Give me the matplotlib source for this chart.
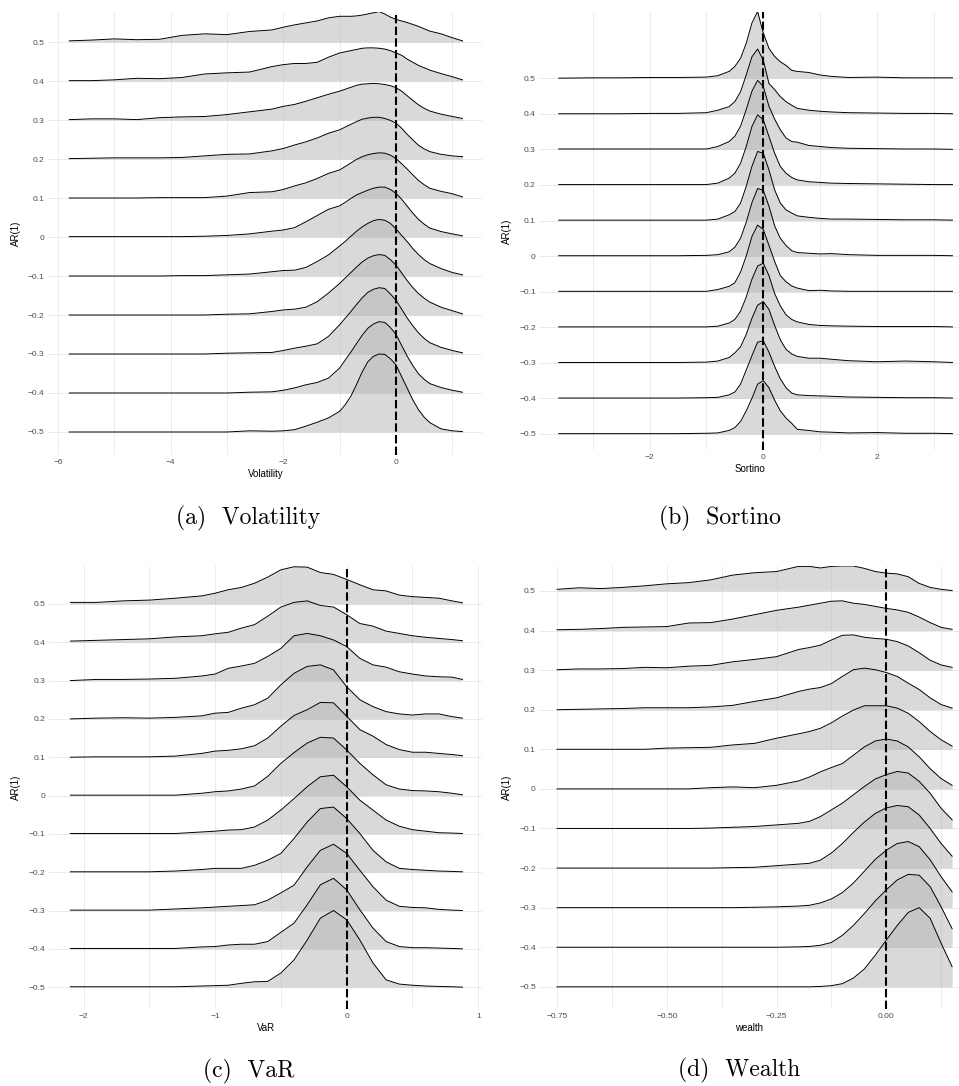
import numpy as np
import matplotlib
matplotlib.use('Agg')
from matplotlib import pyplot as plt

# AR(1) levels, top ridge first
AR_LEVELS = [0.5, 0.4, 0.3, 0.2, 0.1, 0.0, -0.1, -0.2, -0.3, -0.4, -0.5]
AR_LABELS = ['0.5', '0.4', '0.3', '0.2', '0.1', '0', '\u22120.1', '\u22120.2', '\u22120.3', '\u22120.4', '\u22120.5']

# density heights are given in units of the ridge spacing (0.1 on the AR(1) axis)

# (a) Volatility
vol_x = [-5.8, -5.4, -5.0, -4.6, -4.2, -3.8, -3.4, -3.0, -2.6, -2.2, -2.0, -1.8, -1.6, -1.4, -1.2,
         -1.0, -0.9, -0.8, -0.7, -0.6, -0.5, -0.4, -0.3, -0.2, -0.1, 0.0, 0.1, 0.2, 0.3, 0.4, 0.5, 0.6,
         0.8, 1.0, 1.18]
vol_dens = [
    [0.03, 0.05, 0.08, 0.06, 0.07, 0.17, 0.21, 0.19, 0.27, 0.31, 0.38, 0.44, 0.49, 0.54, 0.62,
     0.66, 0.66, 0.66, 0.67, 0.69, 0.72, 0.75, 0.78, 0.72, 0.64, 0.58, 0.54, 0.50, 0.45, 0.40, 0.34, 0.28,
     0.21, 0.11, 0.03],
    [0.01, 0.01, 0.03, 0.07, 0.06, 0.09, 0.18, 0.21, 0.23, 0.37, 0.42, 0.45, 0.45, 0.48, 0.61,
     0.72, 0.75, 0.78, 0.81, 0.84, 0.85, 0.85, 0.84, 0.82, 0.78, 0.72, 0.66, 0.56, 0.48, 0.40, 0.34, 0.28,
     0.19, 0.11, 0.03],
    [0.01, 0.03, 0.03, 0.01, 0.06, 0.08, 0.09, 0.14, 0.21, 0.28, 0.35, 0.40, 0.48, 0.57, 0.66,
     0.74, 0.79, 0.84, 0.89, 0.92, 0.93, 0.94, 0.93, 0.91, 0.88, 0.83, 0.74, 0.62, 0.50, 0.39, 0.30, 0.23,
     0.15, 0.09, 0.04],
    [0.01, 0.02, 0.03, 0.03, 0.03, 0.04, 0.08, 0.12, 0.13, 0.21, 0.27, 0.36, 0.44, 0.54, 0.66,
     0.75, 0.82, 0.89, 0.96, 1.02, 1.05, 1.07, 1.07, 1.04, 0.99, 0.92, 0.79, 0.63, 0.49, 0.35, 0.26, 0.19,
     0.12, 0.08, 0.06],
    [0.0, 0.0, 0.0, 0.0, 0.01, 0.01, 0.01, 0.05, 0.14, 0.16, 0.22, 0.31, 0.39, 0.50, 0.63,
     0.72, 0.81, 0.90, 0.99, 1.06, 1.11, 1.14, 1.16, 1.15, 1.10, 1.01, 0.88, 0.74, 0.59, 0.45, 0.34, 0.25,
     0.17, 0.11, 0.03],
    [0.01, 0.01, 0.01, 0.01, 0.01, 0.01, 0.02, 0.04, 0.08, 0.15, 0.18, 0.24, 0.39, 0.55, 0.71,
     0.80, 0.89, 0.99, 1.08, 1.14, 1.20, 1.25, 1.28, 1.28, 1.22, 1.12, 0.97, 0.79, 0.61, 0.45, 0.33, 0.23,
     0.14, 0.08, 0.03],
    [0.0, 0.0, 0.0, 0.0, 0.0, 0.01, 0.01, 0.03, 0.05, 0.11, 0.14, 0.15, 0.22, 0.37, 0.54,
     0.77, 0.89, 1.02, 1.15, 1.26, 1.35, 1.42, 1.45, 1.43, 1.35, 1.21, 1.04, 0.88, 0.70, 0.55, 0.42, 0.32,
     0.19, 0.09, 0.03],
    [0.0, 0.0, 0.0, 0.0, 0.0, 0.0, 0.0, 0.02, 0.03, 0.09, 0.13, 0.15, 0.20, 0.34, 0.56,
     0.81, 0.95, 1.09, 1.23, 1.36, 1.46, 1.52, 1.55, 1.53, 1.42, 1.28, 1.08, 0.88, 0.70, 0.55, 0.43, 0.33,
     0.20, 0.11, 0.03],
    [0.0, 0.0, 0.0, 0.0, 0.0, 0.0, 0.0, 0.02, 0.03, 0.04, 0.09, 0.15, 0.20, 0.26, 0.45,
     0.75, 0.92, 1.09, 1.27, 1.44, 1.58, 1.66, 1.70, 1.68, 1.54, 1.38, 1.15, 0.92, 0.72, 0.54, 0.40, 0.29,
     0.17, 0.09, 0.03],
    [0.0, 0.0, 0.0, 0.0, 0.0, 0.0, 0.0, 0.0, 0.02, 0.03, 0.07, 0.13, 0.21, 0.27, 0.38,
     0.64, 0.85, 1.05, 1.27, 1.48, 1.66, 1.77, 1.83, 1.81, 1.68, 1.50, 1.22, 0.94, 0.70, 0.49, 0.35, 0.24,
     0.14, 0.07, 0.02],
    [0.0, 0.0, 0.0, 0.0, 0.0, 0.0, 0.0, 0.0, 0.03, 0.02, 0.03, 0.06, 0.15, 0.25, 0.36,
     0.53, 0.70, 0.92, 1.22, 1.54, 1.80, 1.94, 2.00, 1.99, 1.88, 1.72, 1.42, 1.12, 0.82, 0.57, 0.38, 0.24,
     0.08, 0.03, 0.01],
]
vol_ticks = [-6, -4, -2, 0]
vol_tick_labels = ['\u22126', '\u22124', '\u22122', '0']
vol_minor = [-5, -3, -1, 1]

# (b) Sortino
sor_x = [-3.6, -3.0, -2.5, -2.0, -1.5, -1.0, -0.8, -0.6, -0.5, -0.4, -0.3, -0.2, -0.1, 0.0,
         0.1, 0.2, 0.3, 0.4, 0.5, 0.6, 0.8, 1.0, 1.2, 1.5, 2.0, 2.5, 3.0, 3.33]
sor_dens = [
    [0.0, 0.01, 0.01, 0.02, 0.02, 0.03, 0.07, 0.19, 0.33, 0.56, 0.98, 1.55, 1.87, 1.27, 0.84, 0.61, 0.46, 0.36, 0.22, 0.19, 0.16, 0.09, 0.05, 0.02, 0.03, 0.01, 0.01, 0.01],
    [0.0, 0.0, 0.0, 0.01, 0.01, 0.03, 0.10, 0.20, 0.34, 0.62, 1.09, 1.60, 1.82, 1.51, 0.85, 0.68, 0.48, 0.34, 0.24, 0.15, 0.10, 0.07, 0.05, 0.03, 0.02, 0.01, 0.01, 0.0],
    [0.01, 0.01, 0.01, 0.01, 0.01, 0.01, 0.08, 0.22, 0.37, 0.65, 1.12, 1.63, 1.94, 1.77, 1.21, 0.85, 0.55, 0.32, 0.22, 0.20, 0.11, 0.08, 0.05, 0.03, 0.02, 0.01, 0.01, 0.0],
    [0.01, 0.01, 0.01, 0.01, 0.01, 0.01, 0.05, 0.19, 0.33, 0.61, 1.08, 1.64, 1.97, 1.83, 1.36, 0.89, 0.52, 0.33, 0.21, 0.14, 0.09, 0.07, 0.05, 0.04, 0.03, 0.02, 0.01, 0.01],
    [0.01, 0.01, 0.01, 0.01, 0.01, 0.01, 0.04, 0.16, 0.25, 0.49, 0.96, 1.52, 1.94, 1.89, 1.42, 0.86, 0.49, 0.30, 0.21, 0.13, 0.09, 0.06, 0.04, 0.04, 0.03, 0.02, 0.02, 0.01],
    [0.01, 0.01, 0.01, 0.01, 0.01, 0.02, 0.04, 0.12, 0.25, 0.50, 0.95, 1.50, 1.90, 1.85, 1.40, 0.85, 0.50, 0.30, 0.15, 0.10, 0.08, 0.06, 0.07, 0.04, 0.02, 0.02, 0.02, 0.01],
    [0.01, 0.01, 0.01, 0.01, 0.01, 0.01, 0.06, 0.15, 0.25, 0.55, 1.00, 1.55, 1.87, 1.75, 1.30, 0.85, 0.45, 0.28, 0.16, 0.10, 0.03, 0.04, 0.02, 0.01, 0.01, 0.01, 0.01, 0.01],
    [0.01, 0.01, 0.01, 0.01, 0.01, 0.01, 0.03, 0.12, 0.22, 0.45, 0.85, 1.35, 1.72, 1.80, 1.45, 0.95, 0.60, 0.35, 0.22, 0.15, 0.08, 0.05, 0.04, 0.03, 0.02, 0.02, 0.02, 0.01],
    [0.01, 0.01, 0.01, 0.01, 0.01, 0.02, 0.05, 0.15, 0.28, 0.45, 0.80, 1.25, 1.62, 1.72, 1.50, 1.05, 0.65, 0.38, 0.25, 0.18, 0.13, 0.13, 0.10, 0.06, 0.03, 0.05, 0.03, 0.01],
    [0.01, 0.01, 0.01, 0.01, 0.01, 0.02, 0.03, 0.10, 0.18, 0.40, 0.80, 1.20, 1.58, 1.62, 1.30, 0.90, 0.55, 0.30, 0.15, 0.10, 0.08, 0.07, 0.06, 0.04, 0.03, 0.02, 0.02, 0.01],
    [0.01, 0.01, 0.01, 0.01, 0.01, 0.02, 0.03, 0.10, 0.18, 0.35, 0.65, 1.00, 1.40, 1.50, 1.30, 0.95, 0.65, 0.45, 0.30, 0.13, 0.10, 0.06, 0.05, 0.03, 0.04, 0.02, 0.02, 0.01],
]
sor_ticks = [-2, 0, 2]
sor_tick_labels = ['\u22122', '0', '2']
sor_minor = [-3, -1, 1, 3]

# (c) VaR
var_x = [-2.1, -1.9, -1.7, -1.5, -1.3, -1.1, -1.0, -0.9, -0.8, -0.7, -0.6, -0.5, -0.4, -0.3,
         -0.2, -0.1, 0.0, 0.1, 0.2, 0.3, 0.4, 0.5, 0.6, 0.7, 0.8, 0.88]
var_dens = [
    [0.04, 0.04, 0.08, 0.10, 0.15, 0.21, 0.28, 0.37, 0.43, 0.54, 0.70, 0.89, 0.97, 0.96, 0.82, 0.77, 0.64, 0.50, 0.37, 0.34, 0.23, 0.19, 0.17, 0.15, 0.08, 0.03],
    [0.03, 0.05, 0.07, 0.09, 0.14, 0.17, 0.22, 0.26, 0.37, 0.46, 0.68, 0.92, 1.04, 1.08, 0.96, 0.92, 0.72, 0.49, 0.42, 0.29, 0.23, 0.17, 0.13, 0.10, 0.07, 0.04],
    [0.0, 0.03, 0.03, 0.04, 0.06, 0.12, 0.17, 0.32, 0.38, 0.45, 0.63, 0.84, 1.17, 1.23, 1.17, 1.06, 0.89, 0.58, 0.41, 0.35, 0.23, 0.17, 0.12, 0.10, 0.09, 0.03],
    [0.0, 0.02, 0.03, 0.02, 0.04, 0.08, 0.15, 0.17, 0.28, 0.37, 0.54, 0.89, 1.19, 1.37, 1.41, 1.28, 0.84, 0.50, 0.32, 0.19, 0.13, 0.10, 0.13, 0.13, 0.06, 0.02],
    [0.0, 0.01, 0.01, 0.01, 0.03, 0.10, 0.16, 0.18, 0.22, 0.30, 0.50, 0.81, 1.09, 1.24, 1.43, 1.42, 1.07, 0.72, 0.55, 0.33, 0.20, 0.13, 0.13, 0.10, 0.07, 0.04],
    [0.01, 0.01, 0.01, 0.01, 0.01, 0.06, 0.10, 0.12, 0.17, 0.25, 0.50, 0.84, 1.12, 1.37, 1.52, 1.50, 1.19, 0.84, 0.54, 0.28, 0.17, 0.13, 0.12, 0.10, 0.06, 0.02],
    [0.01, 0.01, 0.01, 0.01, 0.01, 0.05, 0.07, 0.10, 0.11, 0.18, 0.36, 0.62, 0.92, 1.23, 1.49, 1.53, 1.23, 0.88, 0.62, 0.36, 0.20, 0.11, 0.07, 0.03, 0.02, 0.01],
    [0.01, 0.01, 0.01, 0.01, 0.03, 0.07, 0.10, 0.10, 0.10, 0.18, 0.31, 0.49, 0.88, 1.31, 1.66, 1.70, 1.40, 1.01, 0.57, 0.27, 0.10, 0.07, 0.05, 0.03, 0.02, 0.01],
    [0.01, 0.01, 0.01, 0.01, 0.04, 0.07, 0.09, 0.11, 0.13, 0.15, 0.27, 0.46, 0.66, 1.14, 1.57, 1.73, 1.49, 1.05, 0.62, 0.27, 0.11, 0.08, 0.07, 0.03, 0.01, 0.0],
    [0.01, 0.01, 0.01, 0.01, 0.01, 0.05, 0.06, 0.10, 0.12, 0.12, 0.19, 0.43, 0.67, 1.15, 1.67, 1.84, 1.54, 1.02, 0.54, 0.19, 0.06, 0.03, 0.03, 0.02, 0.01, 0.0],
    [0.01, 0.01, 0.01, 0.01, 0.01, 0.03, 0.04, 0.05, 0.10, 0.14, 0.15, 0.37, 0.71, 1.23, 1.80, 2.00, 1.76, 1.23, 0.63, 0.19, 0.08, 0.05, 0.03, 0.02, 0.01, 0.0],
]
var_ticks = [-2, -1, 0, 1]
var_tick_labels = ['\u22122', '\u22121', '0', '1']
var_minor = [-1.5, -0.5, 0.5]

# (d) Wealth
wealth_x = [-0.75, -0.70, -0.65, -0.60, -0.55, -0.50, -0.45, -0.40, -0.35, -0.30, -0.25, -0.20, -0.175,
            -0.15, -0.125, -0.10, -0.075, -0.05, -0.025, 0.0, 0.025, 0.05, 0.075, 0.10, 0.125, 0.15]
wealth_dens = [
    [0.04, 0.08, 0.06, 0.09, 0.13, 0.18, 0.21, 0.28, 0.40, 0.46, 0.49, 0.62, 0.62, 0.58, 0.62, 0.63, 0.63, 0.57, 0.49, 0.45, 0.43, 0.36, 0.19, 0.09, 0.04, 0.01],
    [0.02, 0.03, 0.05, 0.08, 0.09, 0.10, 0.19, 0.20, 0.29, 0.40, 0.51, 0.59, 0.64, 0.69, 0.74, 0.75, 0.69, 0.66, 0.61, 0.56, 0.52, 0.46, 0.34, 0.20, 0.08, 0.03],
    [0.01, 0.03, 0.03, 0.04, 0.07, 0.06, 0.10, 0.12, 0.21, 0.27, 0.34, 0.52, 0.57, 0.63, 0.76, 0.88, 0.89, 0.83, 0.80, 0.78, 0.72, 0.61, 0.44, 0.25, 0.13, 0.07],
    [0.0, 0.01, 0.02, 0.03, 0.05, 0.05, 0.05, 0.07, 0.11, 0.21, 0.30, 0.46, 0.52, 0.56, 0.66, 0.84, 1.01, 1.05, 1.01, 0.94, 0.84, 0.67, 0.51, 0.30, 0.13, 0.04],
    [0.0, 0.0, 0.0, 0.0, 0.0, 0.03, 0.04, 0.05, 0.11, 0.15, 0.28, 0.39, 0.45, 0.53, 0.67, 0.84, 0.99, 1.10, 1.10, 1.10, 1.04, 0.91, 0.70, 0.45, 0.24, 0.08],
    [0.0, 0.0, 0.0, 0.0, 0.0, 0.0, 0.0, 0.03, 0.05, 0.03, 0.09, 0.20, 0.30, 0.43, 0.54, 0.64, 0.85, 1.06, 1.21, 1.26, 1.21, 1.06, 0.81, 0.51, 0.26, 0.09],
    [0.0, 0.0, 0.0, 0.0, 0.0, 0.0, 0.0, 0.01, 0.03, 0.05, 0.09, 0.13, 0.18, 0.30, 0.47, 0.64, 0.85, 1.06, 1.25, 1.36, 1.44, 1.40, 1.19, 0.89, 0.51, 0.22],
    [0.0, 0.0, 0.0, 0.0, 0.0, 0.0, 0.0, 0.0, 0.01, 0.02, 0.06, 0.10, 0.12, 0.20, 0.38, 0.62, 0.90, 1.16, 1.38, 1.52, 1.58, 1.55, 1.34, 1.00, 0.62, 0.30],
    [0.0, 0.0, 0.0, 0.0, 0.0, 0.0, 0.0, 0.0, 0.0, 0.01, 0.02, 0.04, 0.06, 0.12, 0.22, 0.38, 0.62, 0.92, 1.22, 1.45, 1.62, 1.67, 1.54, 1.21, 0.78, 0.40],
    [0.0, 0.0, 0.0, 0.0, 0.0, 0.0, 0.0, 0.0, 0.0, 0.0, 0.0, 0.01, 0.02, 0.05, 0.12, 0.30, 0.55, 0.85, 1.17, 1.45, 1.70, 1.84, 1.82, 1.53, 1.02, 0.47],
    [0.0, 0.0, 0.0, 0.0, 0.0, 0.0, 0.0, 0.0, 0.0, 0.0, 0.0, 0.0, 0.0, 0.01, 0.03, 0.08, 0.22, 0.45, 0.80, 1.18, 1.55, 1.88, 2.00, 1.73, 1.10, 0.51],
]
wealth_ticks = [-0.75, -0.50, -0.25, 0.0]
wealth_tick_labels = ['\u22120.75', '\u22120.50', '\u22120.25', '0.00']
wealth_minor = [-0.625, -0.375, -0.125, 0.125]

FIG_W, FIG_H = 959, 1086
GRID_COLOR = '#ebebeb'


def pixelBox(left, top, right, bottom):
    # convert a box in image pixels (origin top-left) to figure fractions
    return [left / FIG_W, 1 - bottom / FIG_H, (right - left) / FIG_W, (bottom - top) / FIG_H]


def ridgePanel(fig, box, xs, dens, xlim, ylim, ticks, tickLabels, minor, xLabel, caption, captionXY):
    ax = fig.add_axes(pixelBox(*box))

    # background grid like theme_minimal
    for g in ticks + minor:
        ax.axvline(g, color=GRID_COLOR, lw=0.7, zorder=0)
    for level in AR_LEVELS:
        ax.axhline(level, color=GRID_COLOR, lw=0.7, zorder=0)

    # ridges, top one first so lower ridges sit on top
    z = 1
    for level, heights in zip(AR_LEVELS, dens):
        top = level + 0.1 * np.array(heights)
        ax.fill_between(xs, level, top, color='#b4b4b4', alpha=0.5, lw=0, zorder=z)
        ax.plot(xs, top, color='black', lw=0.7, zorder=z + 0.5, solid_joinstyle='round')
        z += 1

    ax.axvline(0, color='black', lw=1.5, ls=(0, (4, 1.6)), zorder=50)

    ax.set_xlim(*xlim)
    ax.set_ylim(*ylim)
    ax.set_xticks(ticks)
    ax.set_xticklabels(tickLabels)
    ax.set_yticks(AR_LEVELS)
    ax.set_yticklabels(AR_LABELS)
    ax.tick_params(length=0, labelsize=6, labelcolor='#4d4d4d', pad=3)
    for s in ax.spines.values():
        s.set_visible(False)
    ax.set_xlabel(xLabel, fontsize=7, labelpad=2)
    ax.set_ylabel('AR(1)', fontsize=7, labelpad=5)

    fig.text(captionXY[0] / FIG_W, 1 - captionXY[1] / FIG_H, caption,
             family='cmr10', fontsize=17, ha='center', va='center')
    return ax


def run():
    plt.rcParams['font.family'] = ['Liberation Sans', 'DejaVu Sans']
    fig = plt.figure(figsize=(FIG_W / 100, FIG_H / 100), dpi=100)

    ridgePanel(fig, (48.4, 12, 482.2, 455), vol_x, vol_dens, (-6.17, 1.53), (-0.559, 0.577),
               vol_ticks, vol_tick_labels, vol_minor, 'Volatility', '(a)  Volatility', (248, 518))
    ridgePanel(fig, (540, 12, 959, 450), sor_x, sor_dens, (-3.93, 3.445), (-0.545, 0.686),
               sor_ticks, sor_tick_labels, sor_minor, 'Sortino', '(b)  Sortino', (720, 518))
    ridgePanel(fig, (49.3, 566, 482.2, 1009), var_x, var_dens, (-2.26, 1.03), (-0.557, 0.599),
               var_ticks, var_tick_labels, var_minor, 'VaR', '(c)  VaR', (249, 1071))
    ridgePanel(fig, (540, 566, 959, 1009), wealth_x, wealth_dens, (-0.789, 0.1657), (-0.556, 0.563),
               wealth_ticks, wealth_tick_labels, wealth_minor, 'wealth', '(d)  Wealth', (739, 1070))

    fig.savefig('out.png', dpi=100)


if __name__ == '__main__':
    run()
